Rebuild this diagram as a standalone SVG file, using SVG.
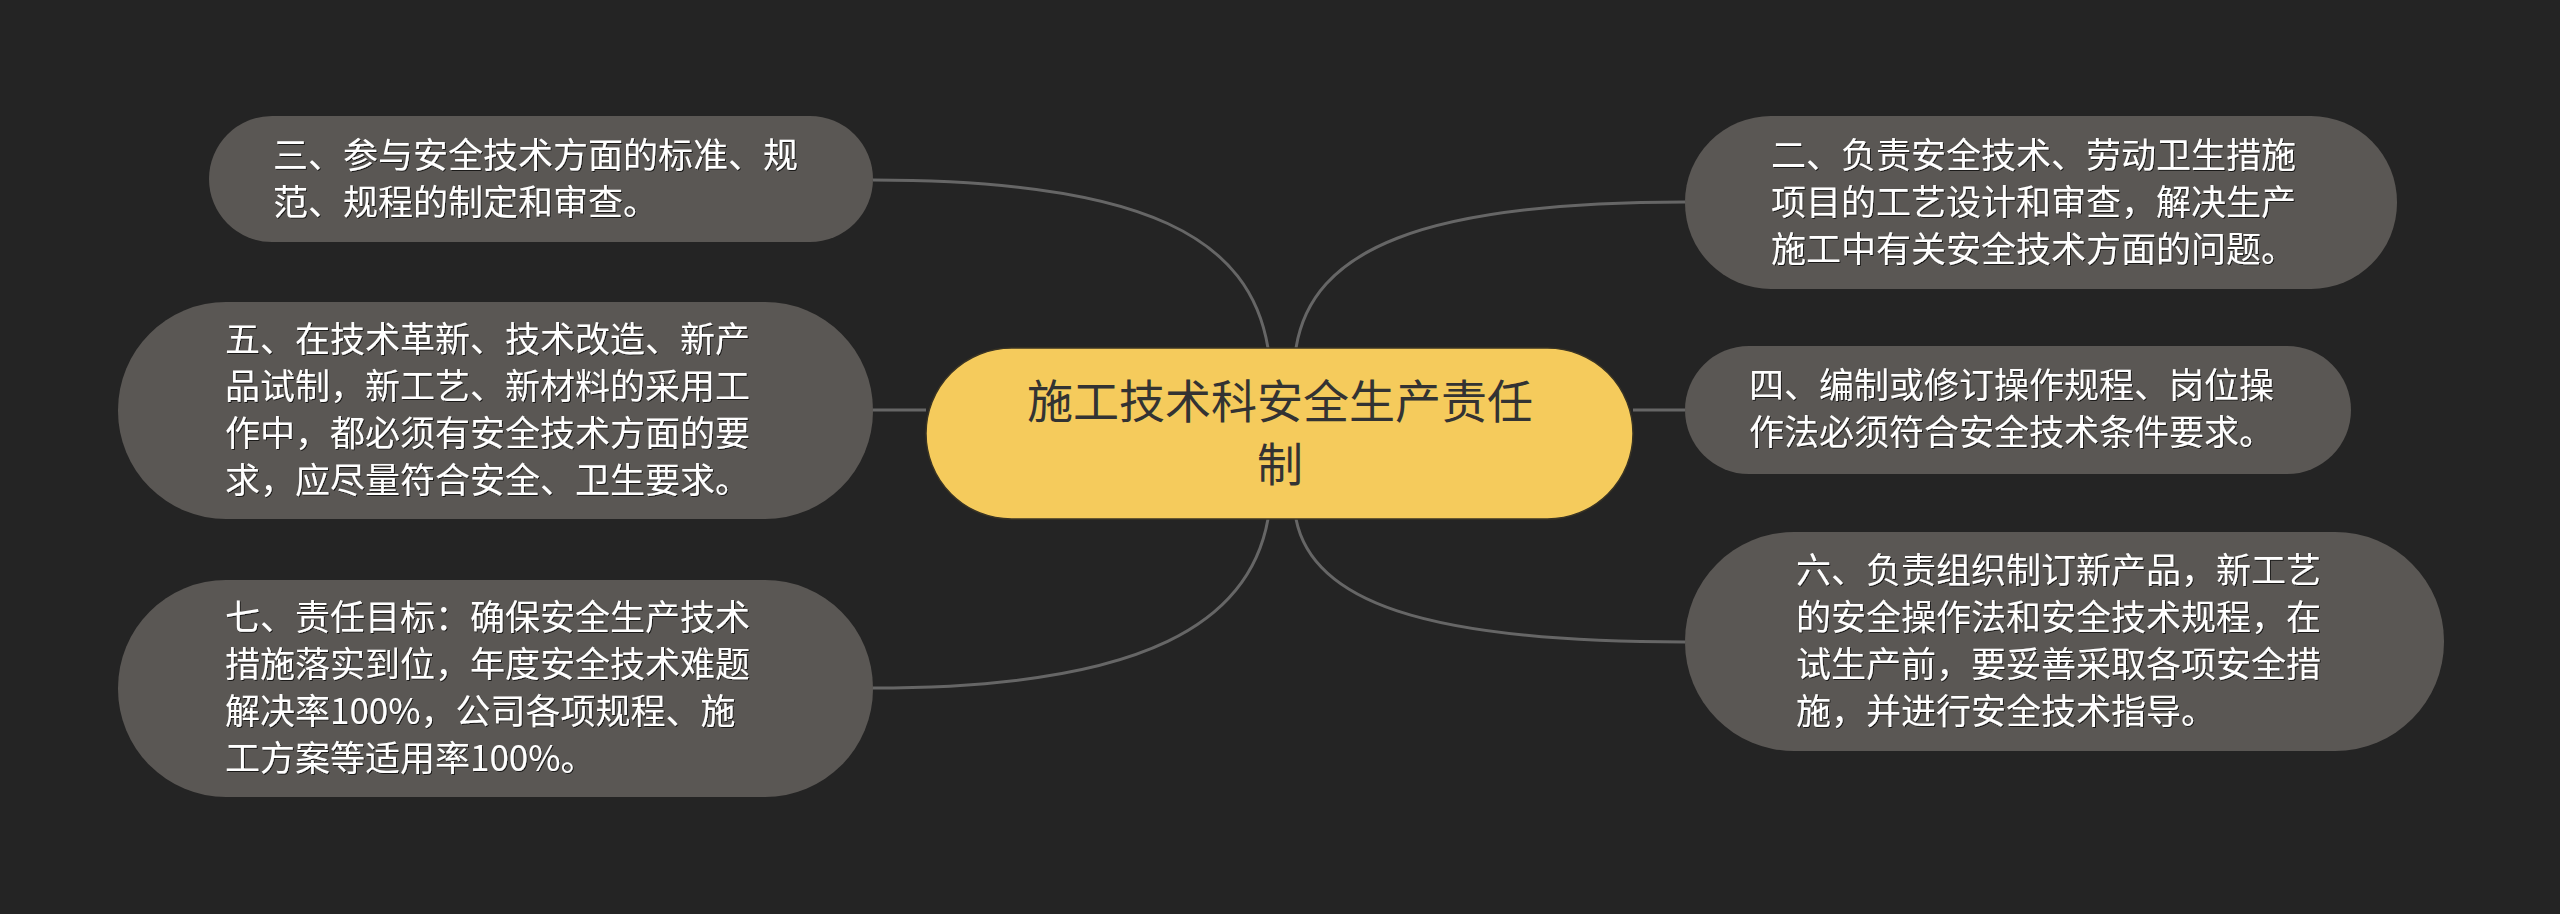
<svg xmlns="http://www.w3.org/2000/svg" width="2560" height="914" viewBox="0 0 2560 914">
<style>
.bg{fill:#242424}
.node{fill:#5a5754}
.center{fill:#f5cb5c;stroke:#3a3424;stroke-width:1.5}
.t{font-family:"Noto Sans CJK SC","Noto Sans",sans-serif;font-size:35px;fill:#ffffff}
.ct{font-family:"Noto Sans CJK SC","Noto Sans",sans-serif;font-size:46px;fill:#333333;text-anchor:middle}
.link{fill:none;stroke:#666666;stroke-width:3}
</style>
<defs>
<filter id="sh" x="-5%" y="-5%" width="110%" height="110%">
<feDropShadow dx="1" dy="1" stdDeviation="0.6" flood-color="#000" flood-opacity="0.7"/>
</filter>
</defs>
<rect class="bg" x="0" y="0" width="2560" height="914"/>
<g id="connectors">
<path class="link" d="M1268 348 C1250 240 1150 180 873 180"/>
<path class="link" d="M1296 348 C1312 250 1420 202 1685 202"/>
<path class="link" d="M926 410 L873 410"/>
<path class="link" d="M1633 410 L1685 410"/>
<path class="link" d="M1268 519 C1250 620 1150 688 873 688"/>
<path class="link" d="M1296 519 C1312 600 1420 642 1685 642"/>
</g>
<g id="center">
<rect class="center" x="926" y="348" width="707" height="171" rx="85.5"/>
<text class="ct" x="1280" y="418">施工技术科安全生产责任</text>
<text class="ct" x="1280" y="481">制</text>
</g>
<g id="n3">
<rect class="node" x="209" y="116" width="664" height="126" rx="63"/>
<g class="t" filter="url(#sh)">
<text x="273" y="168">三、参与安全技术方面的标准、规</text>
<text x="273" y="215">范、规程的制定和审查。</text>
</g>
</g>
<g id="n5">
<rect class="node" x="118" y="302" width="755" height="217" rx="108"/>
<g class="t" filter="url(#sh)">
<text x="225" y="352">五、在技术革新、技术改造、新产</text>
<text x="225" y="399">品试制，新工艺、新材料的采用工</text>
<text x="225" y="446">作中，都必须有安全技术方面的要</text>
<text x="225" y="493">求，应尽量符合安全、卫生要求。</text>
</g>
</g>
<g id="n7">
<rect class="node" x="118" y="580" width="755" height="217" rx="108"/>
<g class="t" filter="url(#sh)">
<text x="225" y="630">七、责任目标：确保安全生产技术</text>
<text x="225" y="677">措施落实到位，年度安全技术难题</text>
<text x="225" y="724">解决率100%，公司各项规程、施</text>
<text x="225" y="771">工方案等适用率100%。</text>
</g>
</g>
<g id="n2">
<rect class="node" x="1685" y="116" width="712" height="173" rx="86"/>
<g class="t" filter="url(#sh)">
<text x="1771" y="168">二、负责安全技术、劳动卫生措施</text>
<text x="1771" y="215">项目的工艺设计和审查，解决生产</text>
<text x="1771" y="262">施工中有关安全技术方面的问题。</text>
</g>
</g>
<g id="n4">
<rect class="node" x="1685" y="346" width="666" height="128" rx="64"/>
<g class="t" filter="url(#sh)">
<text x="1749" y="398">四、编制或修订操作规程、岗位操</text>
<text x="1749" y="445">作法必须符合安全技术条件要求。</text>
</g>
</g>
<g id="n6">
<rect class="node" x="1685" y="532" width="759" height="219" rx="109"/>
<g class="t" filter="url(#sh)">
<text x="1796" y="583">六、负责组织制订新产品，新工艺</text>
<text x="1796" y="630">的安全操作法和安全技术规程，在</text>
<text x="1796" y="677">试生产前，要妥善采取各项安全措</text>
<text x="1796" y="724">施，并进行安全技术指导。</text>
</g>
</g>
</svg>
